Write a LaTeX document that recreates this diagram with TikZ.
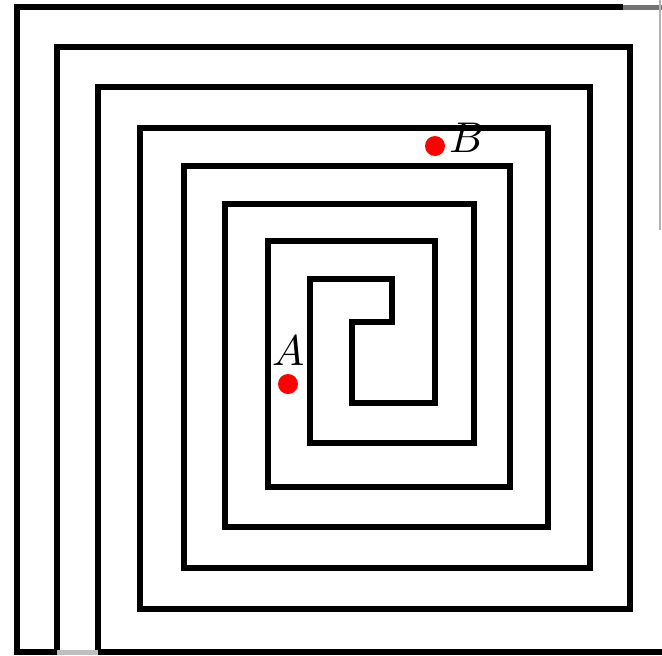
\documentclass[tikz,border=0pt]{standalone}
\usepackage{unicode-math}
\setmathfont{Latin Modern Math}
\begin{document}
\begin{tikzpicture}[x=1pt,y=-1pt,
  wall/.style={line width=6pt,line join=miter,black},
  faint/.style={line width=5pt,black!55},
  rim/.style={line width=1.5pt,black!30},
  dot/.style={circle,fill=red,inner sep=0pt,minimum size=20pt},
  lbl/.style={inner sep=0pt,font=\fontsize{43}{43}\selectfont}]
\useasboundingbox (0,0) rectangle (662,656);
% continuous double spiral wall
\draw[wall] (623,7) -- (17,7) -- (17,652) -- (57,652) -- (57,47) -- (630,47)
  -- (630,609) -- (140,609) -- (140,128) -- (548,128) -- (548,527)
  -- (225,527) -- (225,204) -- (474,204) -- (474,443) -- (310,443)
  -- (310,279) -- (392,279) -- (392,322) -- (352,322) -- (352,403)
  -- (435,403) -- (435,241) -- (268,241) -- (268,487) -- (510,487)
  -- (510,166) -- (184,166) -- (184,568) -- (590,568) -- (590,87)
  -- (98,87) -- (98,652) -- (662,652);
% faint edge bits
\draw[faint] (623,7) -- (662,7);
\draw[faint,black!25] (57,652) -- (98,652);
\draw[rim] (660,0) -- (660,230);
% points
\node[dot] (dB) at (435,146) {};
\node[dot] (dA) at (288,384) {};
\node[lbl] (lB) at (466,138) {$B$};
\node[lbl] (lA) at (289,350) {$A$};
\end{tikzpicture}
\end{document}
